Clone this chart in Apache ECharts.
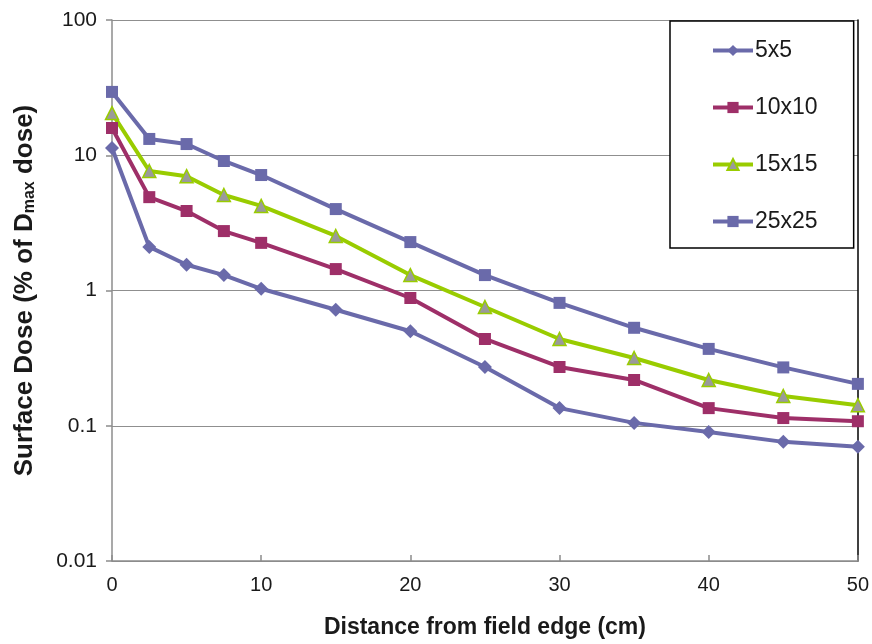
<!DOCTYPE html>
<html>
<head>
<meta charset="utf-8">
<script src="https://cdn.jsdelivr.net/npm/echarts@6/dist/echarts.min.js"></script>
<style>
  html, body { margin: 0; padding: 0; background: #fff; }
  #chart { width: 872px; height: 644px; }
</style>
</head>
<body>
<div id="chart"></div>
<script>
// Distance from the field edge (cm)
const distances = [0, 2.5, 5, 7.5, 10, 15, 20, 25, 30, 35, 40, 45, 50];

// Surface dose (% of Dmax dose) for each field size
const dose5x5   = [11.3, 2.10, 1.55, 1.30, 1.03, 0.72, 0.50, 0.272, 0.135, 0.105, 0.090, 0.076, 0.070];
const dose10x10 = [15.9, 4.9, 3.87, 2.75, 2.25, 1.44, 0.88, 0.438, 0.272, 0.218, 0.135, 0.114, 0.108];
const dose15x15 = [20.5, 7.65, 7.0, 5.08, 4.22, 2.53, 1.30, 0.755, 0.438, 0.317, 0.218, 0.166, 0.142];
const dose25x25 = [29.4, 13.2, 12.1, 9.07, 7.14, 4.0, 2.28, 1.30, 0.81, 0.53, 0.37, 0.27, 0.204];

const seriesNames = ['5x5', '10x10', '15x15', '25x25'];
const yTickLabels = ['0.01', '0.1', '1', '10', '100'];

const toPairs = vals => distances.map((d, i) => [d, vals[i]]);

const FONT = '"Liberation Sans", Arial, sans-serif';
const TEXT = '#1a1a1a';
const AXIS_GRAY = '#8c8c8c';

function lineSeries(name, vals, color, symbol, symbolSize, fill) {
  return {
    name: name,
    type: 'line',
    data: toPairs(vals),
    symbol: symbol,
    symbolSize: symbolSize,
    showAllSymbol: true,
    lineStyle: { color: color, width: 4 },
    itemStyle: { color: fill || color, borderColor: color, borderWidth: fill ? 1.5 : 0 },
    emphasis: { disabled: true },
    z: 3
  };
}

const chart = echarts.init(document.getElementById('chart'), null, { renderer: 'canvas' });

chart.setOption({
  animation: false,
  backgroundColor: '#ffffff',
  grid: { left: 112, right: 14, top: 20, bottom: 83, containLabel: false },
  legend: {
    orient: 'vertical',
    left: 670,
    top: 21,
    data: seriesNames,
    backgroundColor: '#ffffff',
    borderColor: '#000000',
    borderWidth: 1.5,
    padding: [18, 36, 15, 41],
    itemGap: 34,
    itemWidth: 40,
    itemHeight: 14,
    lineStyle: { width: 4 },
    textStyle: { fontFamily: FONT, fontSize: 23, color: TEXT, padding: [0, 0, 0, -3] }
  },
  xAxis: {
    type: 'value',
    min: 0,
    max: 50,
    interval: 10,
    name: 'Distance from field edge (cm)',
    nameLocation: 'middle',
    nameGap: 55,
    nameTextStyle: { fontFamily: FONT, fontSize: 23, fontWeight: 'bold', color: TEXT },
    axisLine: { show: true, lineStyle: { color: AXIS_GRAY, width: 1.5 } },
    axisTick: { show: true, inside: true, length: 6, lineStyle: { color: AXIS_GRAY, width: 1.5 } },
    axisLabel: { fontFamily: FONT, fontSize: 20, color: TEXT, margin: 14 },
    splitLine: { show: false }
  },
  yAxis: [{
    type: 'log',
    logBase: 10,
    min: 0.01,
    max: 100,
    name: '{t|Surface Dose (% of D}{s|max}{t| dose)}',
    nameLocation: 'middle',
    nameGap: 74,
    nameRotate: 90,
    nameTextStyle: {
      rich: {
        t: { fontFamily: FONT, fontSize: 26, fontWeight: 'bold', color: TEXT },
        s: { fontFamily: FONT, fontSize: 16, fontWeight: 'bold', color: TEXT, verticalAlign: 'bottom', padding: [10, 0, 0, 0] }
      }
    },
    axisLine: { show: true, lineStyle: { color: AXIS_GRAY, width: 1.5 } },
    axisTick: { show: true, inside: false, length: 6, lineStyle: { color: AXIS_GRAY, width: 1.5 } },
    axisLabel: {
      fontFamily: FONT, fontSize: 21, color: TEXT, margin: 15,
      formatter: function (v) {
        const idx = Math.round(Math.log10(v)) + 2;
        return yTickLabels[idx] !== undefined ? yTickLabels[idx] : '';
      }
    },
    splitLine: { show: true, lineStyle: { color: '#8f8f8f', width: 1.2 } }
  }, {
    // right-hand border of the plot area
    type: 'log',
    logBase: 10,
    min: 0.01,
    max: 100,
    position: 'right',
    axisLine: { show: true, lineStyle: { color: '#000000', width: 1.5 } },
    axisTick: { show: false },
    axisLabel: { show: false },
    splitLine: { show: false }
  }],
  series: [
    lineSeries('5x5', dose5x5, '#6a6aaa', 'diamond', 14),
    lineSeries('10x10', dose10x10, '#9e2f68', 'rect', 12),
    lineSeries('15x15', dose15x15, '#99cc00', 'triangle', 13, '#9a9a9a'),
    lineSeries('25x25', dose25x25, '#6a6aaa', 'rect', 12)
  ]
});
</script>
</body>
</html>
